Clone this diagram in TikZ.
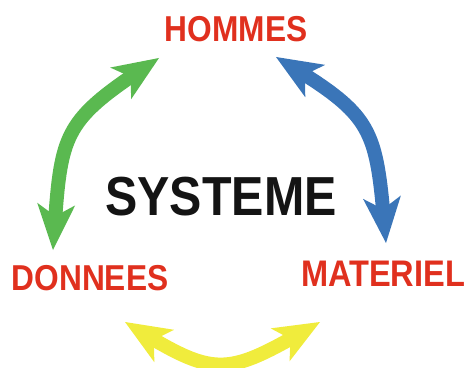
\documentclass[tikz,border=0pt]{standalone}
\usepackage{fontspec}
\usepackage{tikz}
\usetikzlibrary{arrows.meta,bending}
\newfontfamily\lblfont[FakeStretch=0.88]{Liberation Sans Bold}
\definecolor{lblred}{RGB}{224,48,30}
\definecolor{arrgreen}{RGB}{90,185,80}
\definecolor{arrblue}{RGB}{58,117,184}
\definecolor{arryellow}{RGB}{240,236,60}
\definecolor{sysblack}{RGB}{20,20,20}
\tikzset{
  >={Stealth[length=46pt,width=38pt,inset=12pt,line width=0pt]},
  lbl/.style={text=lblred,inner sep=0pt,font=\lblfont\fontsize{36}{36}\selectfont},
  link/.style={<->,line width=14pt}
}

\begin{document}
\begin{tikzpicture}[x=1pt,y=1pt]
\useasboundingbox (0,0) rectangle (465,367);
% labels
\node[lbl] at (236,337.5)(hommes){HOMMES};
\node[lbl] at (90,89)(donnees){DONNEES};
\node[lbl,font=\lblfont\fontsize{37}{37}\selectfont] at (383,93)(materiel){MATERIEL};
\node[inner sep=0pt,text=sysblack,font=\lblfont\fontsize{55}{55}\selectfont] at (221,170)(systeme){SYSTEME};
% arrow tips
\coordinate (gbot) at (53,117);
\coordinate (gtop) at (159,309);
\coordinate (btop) at (276,310);
\coordinate (bbot) at (386,124);
\coordinate (yleft) at (125,45);
\coordinate (yright) at (320,45);
% arrows
\draw[link,arrgreen] (gbot) to[out=86,in=213,looseness=1.4] (gtop);
\draw[link,arrblue] (btop) to[out=-31,in=95,looseness=1.4] (bbot);
\draw[link,arryellow] (yleft) to[out=-32,in=210,looseness=1.45] (yright);
\end{tikzpicture}
\end{document}
